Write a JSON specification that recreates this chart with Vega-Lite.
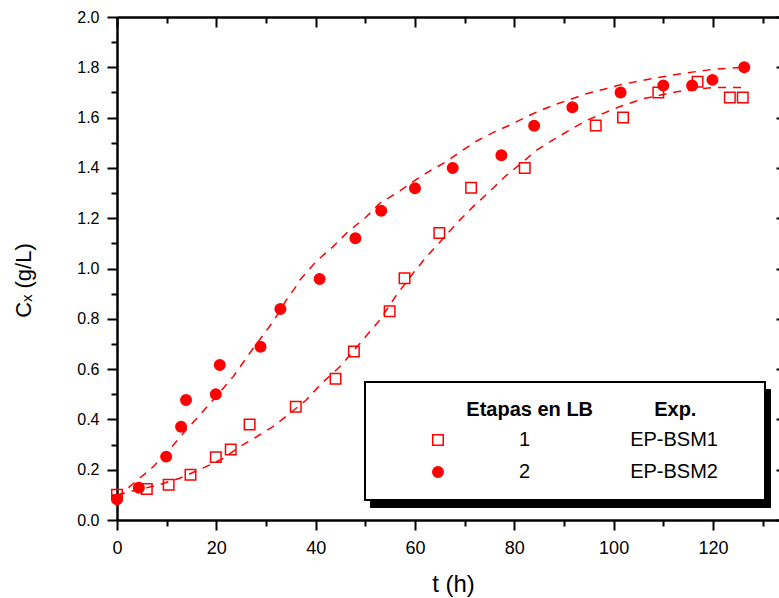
{
  "$schema": "https://vega.github.io/schema/vega-lite/v6.json",
  "width": 662,
  "height": 503,
  "autosize": "none",
  "padding": {"left": 117, "top": 17, "right": 0, "bottom": 78},
  "background": "white",
  "config": {
    "view": {"stroke": null},
    "font": "Liberation Sans",
    "axis": {
      "grid": false,
      "domainColor": "black",
      "domainWidth": 2.5,
      "tickColor": "black",
      "tickWidth": 2,
      "labelColor": "black",
      "titleColor": "black",
      "labelFont": "Liberation Sans",
      "titleFont": "Liberation Sans",
      "titleFontWeight": "normal"
    }
  },
  "datasets": {
    "points": [
      {"t": 0, "cx": 0.10, "stage": "1", "exp": "EP-BSM1"},
      {"t": 6.0, "cx": 0.123, "stage": "1", "exp": "EP-BSM1"},
      {"t": 10.4, "cx": 0.14, "stage": "1", "exp": "EP-BSM1"},
      {"t": 14.8, "cx": 0.18, "stage": "1", "exp": "EP-BSM1"},
      {"t": 19.9, "cx": 0.25, "stage": "1", "exp": "EP-BSM1"},
      {"t": 22.9, "cx": 0.28, "stage": "1", "exp": "EP-BSM1"},
      {"t": 26.7, "cx": 0.38, "stage": "1", "exp": "EP-BSM1"},
      {"t": 36.0, "cx": 0.45, "stage": "1", "exp": "EP-BSM1"},
      {"t": 44.0, "cx": 0.562, "stage": "1", "exp": "EP-BSM1"},
      {"t": 47.7, "cx": 0.67, "stage": "1", "exp": "EP-BSM1"},
      {"t": 54.9, "cx": 0.83, "stage": "1", "exp": "EP-BSM1"},
      {"t": 57.9, "cx": 0.961, "stage": "1", "exp": "EP-BSM1"},
      {"t": 64.9, "cx": 1.141, "stage": "1", "exp": "EP-BSM1"},
      {"t": 71.3, "cx": 1.321, "stage": "1", "exp": "EP-BSM1"},
      {"t": 82.1, "cx": 1.40, "stage": "1", "exp": "EP-BSM1"},
      {"t": 96.4, "cx": 1.569, "stage": "1", "exp": "EP-BSM1"},
      {"t": 101.9, "cx": 1.60, "stage": "1", "exp": "EP-BSM1"},
      {"t": 109.0, "cx": 1.70, "stage": "1", "exp": "EP-BSM1"},
      {"t": 116.9, "cx": 1.743, "stage": "1", "exp": "EP-BSM1"},
      {"t": 123.4, "cx": 1.68, "stage": "1", "exp": "EP-BSM1"},
      {"t": 126.0, "cx": 1.68, "stage": "1", "exp": "EP-BSM1"},
      {"t": 0, "cx": 0.082, "stage": "2", "exp": "EP-BSM2"},
      {"t": 4.4, "cx": 0.128, "stage": "2", "exp": "EP-BSM2"},
      {"t": 9.9, "cx": 0.252, "stage": "2", "exp": "EP-BSM2"},
      {"t": 12.9, "cx": 0.371, "stage": "2", "exp": "EP-BSM2"},
      {"t": 13.9, "cx": 0.477, "stage": "2", "exp": "EP-BSM2"},
      {"t": 19.9, "cx": 0.50, "stage": "2", "exp": "EP-BSM2"},
      {"t": 20.7, "cx": 0.616, "stage": "2", "exp": "EP-BSM2"},
      {"t": 28.9, "cx": 0.689, "stage": "2", "exp": "EP-BSM2"},
      {"t": 32.9, "cx": 0.839, "stage": "2", "exp": "EP-BSM2"},
      {"t": 40.8, "cx": 0.958, "stage": "2", "exp": "EP-BSM2"},
      {"t": 48.0, "cx": 1.12, "stage": "2", "exp": "EP-BSM2"},
      {"t": 53.2, "cx": 1.23, "stage": "2", "exp": "EP-BSM2"},
      {"t": 60.0, "cx": 1.319, "stage": "2", "exp": "EP-BSM2"},
      {"t": 67.6, "cx": 1.40, "stage": "2", "exp": "EP-BSM2"},
      {"t": 77.4, "cx": 1.45, "stage": "2", "exp": "EP-BSM2"},
      {"t": 84.0, "cx": 1.568, "stage": "2", "exp": "EP-BSM2"},
      {"t": 91.7, "cx": 1.641, "stage": "2", "exp": "EP-BSM2"},
      {"t": 101.4, "cx": 1.70, "stage": "2", "exp": "EP-BSM2"},
      {"t": 110.0, "cx": 1.728, "stage": "2", "exp": "EP-BSM2"},
      {"t": 115.8, "cx": 1.728, "stage": "2", "exp": "EP-BSM2"},
      {"t": 119.9, "cx": 1.75, "stage": "2", "exp": "EP-BSM2"},
      {"t": 126.3, "cx": 1.80, "stage": "2", "exp": "EP-BSM2"}
    ],
    "curves": [
      {"t": 0, "cx": 0.10, "stage": "1"},
      {"t": 4, "cx": 0.119, "stage": "1"},
      {"t": 8.3, "cx": 0.139, "stage": "1"},
      {"t": 12.6, "cx": 0.166, "stage": "1"},
      {"t": 17.3, "cx": 0.206, "stage": "1"},
      {"t": 21.4, "cx": 0.245, "stage": "1"},
      {"t": 24.7, "cx": 0.291, "stage": "1"},
      {"t": 28.1, "cx": 0.331, "stage": "1"},
      {"t": 31.4, "cx": 0.371, "stage": "1"},
      {"t": 34.8, "cx": 0.424, "stage": "1"},
      {"t": 38.1, "cx": 0.477, "stage": "1"},
      {"t": 41.2, "cx": 0.543, "stage": "1"},
      {"t": 44.9, "cx": 0.61, "stage": "1"},
      {"t": 48.9, "cx": 0.702, "stage": "1"},
      {"t": 52.9, "cx": 0.795, "stage": "1"},
      {"t": 56.3, "cx": 0.895, "stage": "1"},
      {"t": 59.6, "cx": 0.981, "stage": "1"},
      {"t": 62.3, "cx": 1.047, "stage": "1"},
      {"t": 65.5, "cx": 1.115, "stage": "1"},
      {"t": 68.4, "cx": 1.18, "stage": "1"},
      {"t": 71.7, "cx": 1.246, "stage": "1"},
      {"t": 74.7, "cx": 1.30, "stage": "1"},
      {"t": 78.1, "cx": 1.365, "stage": "1"},
      {"t": 81.8, "cx": 1.425, "stage": "1"},
      {"t": 84.5, "cx": 1.471, "stage": "1"},
      {"t": 87.8, "cx": 1.511, "stage": "1"},
      {"t": 91.2, "cx": 1.551, "stage": "1"},
      {"t": 94.5, "cx": 1.588, "stage": "1"},
      {"t": 97.9, "cx": 1.617, "stage": "1"},
      {"t": 101.2, "cx": 1.643, "stage": "1"},
      {"t": 105.9, "cx": 1.675, "stage": "1"},
      {"t": 112.7, "cx": 1.703, "stage": "1"},
      {"t": 120, "cx": 1.72, "stage": "1"},
      {"t": 126.5, "cx": 1.72, "stage": "1"},
      {"t": 0, "cx": 0.09, "stage": "2"},
      {"t": 3.9, "cx": 0.155, "stage": "2"},
      {"t": 7.3, "cx": 0.212, "stage": "2"},
      {"t": 11, "cx": 0.29, "stage": "2"},
      {"t": 13.6, "cx": 0.351, "stage": "2"},
      {"t": 16.7, "cx": 0.418, "stage": "2"},
      {"t": 19.9, "cx": 0.49, "stage": "2"},
      {"t": 23.4, "cx": 0.57, "stage": "2"},
      {"t": 26.7, "cx": 0.663, "stage": "2"},
      {"t": 31.4, "cx": 0.788, "stage": "2"},
      {"t": 34.1, "cx": 0.875, "stage": "2"},
      {"t": 36.1, "cx": 0.93, "stage": "2"},
      {"t": 36.8, "cx": 0.954, "stage": "2"},
      {"t": 40.2, "cx": 1.03, "stage": "2"},
      {"t": 43.5, "cx": 1.087, "stage": "2"},
      {"t": 46.5, "cx": 1.146, "stage": "2"},
      {"t": 49.9, "cx": 1.2, "stage": "2"},
      {"t": 52.9, "cx": 1.259, "stage": "2"},
      {"t": 56.3, "cx": 1.30, "stage": "2"},
      {"t": 59.6, "cx": 1.345, "stage": "2"},
      {"t": 63, "cx": 1.388, "stage": "2"},
      {"t": 66.3, "cx": 1.425, "stage": "2"},
      {"t": 69.4, "cx": 1.468, "stage": "2"},
      {"t": 72.7, "cx": 1.51, "stage": "2"},
      {"t": 76.1, "cx": 1.544, "stage": "2"},
      {"t": 79.1, "cx": 1.57, "stage": "2"},
      {"t": 82.5, "cx": 1.604, "stage": "2"},
      {"t": 85.5, "cx": 1.63, "stage": "2"},
      {"t": 88.5, "cx": 1.654, "stage": "2"},
      {"t": 91.5, "cx": 1.674, "stage": "2"},
      {"t": 94.5, "cx": 1.695, "stage": "2"},
      {"t": 97.9, "cx": 1.712, "stage": "2"},
      {"t": 101.2, "cx": 1.73, "stage": "2"},
      {"t": 108, "cx": 1.756, "stage": "2"},
      {"t": 114, "cx": 1.776, "stage": "2"},
      {"t": 120, "cx": 1.792, "stage": "2"},
      {"t": 126.5, "cx": 1.80, "stage": "2"}
    ]
  },
  "layer": [
    {
      "data": {"name": "curves"},
      "mark": {"type": "line", "stroke": "red", "strokeWidth": 1.5, "strokeDash": [8, 7]},
      "encoding": {
        "x": {
          "field": "t", "type": "quantitative",
          "scale": {"domain": [0, 133.3], "nice": false, "zero": false},
          "axis": {
            "orient": "bottom",
            "values": [0, 10, 20, 30, 40, 50, 60, 70, 80, 90, 100, 110, 120, 130],
            "labelExpr": "datum.value % 20 === 0 ? datum.label : ''",
            "tickSize": {"condition": {"test": "datum.value % 20 === 0", "value": 10}, "value": 6},
            "labelFontSize": 18,
            "labelPadding": 9,
            "labelFlush": false,
            "labelOverlap": false,
            "title": "t (h)",
            "titleFontSize": 24,
            "titleX": 336,
            "titleY": 64,
            "titleBaseline": "middle",
            "titleAlign": "center"
          }
        },
        "y": {
          "field": "cx", "type": "quantitative",
          "scale": {"domain": [0, 2], "nice": false, "zero": false},
          "axis": {
            "orient": "left",
            "values": [0, 0.1, 0.2, 0.3, 0.4, 0.5, 0.6, 0.7, 0.8, 0.9, 1.0, 1.1, 1.2, 1.3, 1.4, 1.5, 1.6, 1.7, 1.8, 1.9, 2.0],
            "format": ".1f",
            "labelExpr": "round(datum.value * 10) % 2 === 0 ? datum.label : ''",
            "tickSize": {"condition": {"test": "round(datum.value * 10) % 2 === 0", "value": 10}, "value": 6},
            "labelFontSize": 16,
            "labelPadding": 8,
            "labelFlush": false,
            "labelOverlap": false,
            "title": "Cₓ (g/L)",
            "titleFontSize": 22,
            "titleAngle": -90,
            "titleX": -94,
            "titleY": 263,
            "titleBaseline": "middle",
            "titleAlign": "center"
          }
        },
        "detail": {"field": "stage", "type": "nominal"}
      }
    },
    {
      "data": {"name": "points"},
      "mark": {"type": "point", "stroke": "red", "strokeWidth": 1.5, "opacity": 1, "size": 110},
      "encoding": {
        "x": {
          "field": "t", "type": "quantitative",
          "scale": {"domain": [0, 133.3], "nice": false, "zero": false},
          "axis": {
            "orient": "top",
            "values": [0, 10, 20, 30, 40, 50, 60, 70, 80, 90, 100, 110, 120, 130],
            "labels": false,
            "tickSize": {"condition": {"test": "datum.value % 20 === 0", "value": -10}, "value": -6},
            "title": null
          }
        },
        "y": {
          "field": "cx", "type": "quantitative",
          "scale": {"domain": [0, 2], "nice": false, "zero": false},
          "axis": {
            "orient": "right",
            "values": [0, 0.2, 0.4, 0.6, 0.8, 1.0, 1.2, 1.4, 1.6, 1.8, 2.0],
            "labels": false,
            "domain": false,
            "tickSize": -3,
            "title": null
          }
        },
        "color": {
          "field": "exp", "type": "nominal",
          "scale": {"domain": ["EP-BSM1", "EP-BSM2"], "range": ["red", "red"]},
          "legend": {
            "orient": "none", "legendX": 253, "legendY": 372,
            "title": "\u200b\u00a0\u00a0\u00a0\u00a0\u00a0\u00a0\u00a0\u00a0\u00a0\u00a0\u00a0\u00a0\u00a0\u00a0\u00a0Etapas en LB\u00a0\u00a0\u00a0\u00a0\u00a0\u00a0\u00a0\u00a0\u00a0\u00a0\u00a0Exp.\u00a0\u00a0\u00a0\u00a0\u00a0\u00a0\u00a0\u00a0\u00a0\u200b",
            "titleFontSize": 20, "titleFontWeight": "bold", "titleColor": "black", "titleFont": "Liberation Sans", "titlePadding": 10, "titleLimit": 1000,
            "labelFontSize": 20, "labelColor": "black", "labelFont": "Liberation Sans", "labelLimit": 1000,
            "labelExpr": "'1\u00a0\u00a0\u00a0\u00a0\u00a0\u00a0\u00a0\u00a0\u00a0\u00a0\u00a0\u00a0\u00a0\u00a0\u00a0\u00a0\u00a0\u00a0' + datum.label",
            "symbolOffset": 45, "labelOffset": 71, "symbolSize": 110,
            "symbolFillColor": "black", "symbolStrokeColor": "black", "symbolOpacity": 1,
            "rowPadding": 12, "padding": 18,
            "fillColor": "black", "strokeColor": "black"
          }
        },
        "shape": {
          "field": "stage", "type": "nominal",
          "scale": {"domain": ["1", "2"], "range": ["square", "circle"]},
          "legend": {
            "orient": "none", "legendX": 248, "legendY": 365,
            "title": "\u200b\u00a0\u00a0\u00a0\u00a0\u00a0\u00a0\u00a0\u00a0\u00a0\u00a0\u00a0\u00a0\u00a0\u00a0\u00a0Etapas en LB\u00a0\u00a0\u00a0\u00a0\u00a0\u00a0\u00a0\u00a0\u00a0\u00a0\u00a0Exp.\u00a0\u00a0\u00a0\u00a0\u00a0\u00a0\u00a0\u00a0\u00a0\u200b",
            "titleFontSize": 20, "titleFontWeight": "bold", "titleColor": "black", "titleFont": "Liberation Sans", "titlePadding": 10, "titleLimit": 1000,
            "labelFontSize": 20, "labelColor": "black", "labelFont": "Liberation Sans", "labelLimit": 1000,
            "labelExpr": "datum.label + '\u00a0\u00a0\u00a0\u00a0\u00a0\u00a0\u00a0\u00a0\u00a0\u00a0\u00a0\u00a0\u00a0\u00a0\u00a0\u00a0\u00a0\u00a0EP-BSM' + datum.label",
            "symbolOffset": 45, "labelOffset": 71, "symbolSize": 110,
            "symbolStrokeColor": "red", "symbolStrokeWidth": 1.5, "symbolOpacity": 1,
            "rowPadding": 12, "padding": 18,
            "fillColor": "white", "strokeColor": "black",
            "encode": {"legend": {"update": {"strokeWidth": {"value": 2}}}}
          }
        },
        "fill": {
          "field": "stage", "type": "nominal",
          "scale": {"domain": ["1", "2"], "range": ["transparent", "red"]},
          "legend": {
            "orient": "none", "legendX": 248, "legendY": 365,
            "title": "\u200b\u00a0\u00a0\u00a0\u00a0\u00a0\u00a0\u00a0\u00a0\u00a0\u00a0\u00a0\u00a0\u00a0\u00a0\u00a0Etapas en LB\u00a0\u00a0\u00a0\u00a0\u00a0\u00a0\u00a0\u00a0\u00a0\u00a0\u00a0Exp.\u00a0\u00a0\u00a0\u00a0\u00a0\u00a0\u00a0\u00a0\u00a0\u200b",
            "titleFontSize": 20, "titleFontWeight": "bold", "titleColor": "black", "titleFont": "Liberation Sans", "titlePadding": 10, "titleLimit": 1000,
            "labelFontSize": 20, "labelColor": "black", "labelFont": "Liberation Sans", "labelLimit": 1000,
            "labelExpr": "datum.label + '\u00a0\u00a0\u00a0\u00a0\u00a0\u00a0\u00a0\u00a0\u00a0\u00a0\u00a0\u00a0\u00a0\u00a0\u00a0\u00a0\u00a0\u00a0EP-BSM' + datum.label",
            "symbolOffset": 45, "labelOffset": 71, "symbolSize": 110,
            "symbolStrokeColor": "red", "symbolStrokeWidth": 1.5, "symbolOpacity": 1,
            "rowPadding": 12, "padding": 18,
            "fillColor": "white", "strokeColor": "black",
            "encode": {"legend": {"update": {"strokeWidth": {"value": 2}}}}
          }
        }
      }
    }
  ],
  "resolve": {"axis": {"x": "independent", "y": "independent"}}
}
